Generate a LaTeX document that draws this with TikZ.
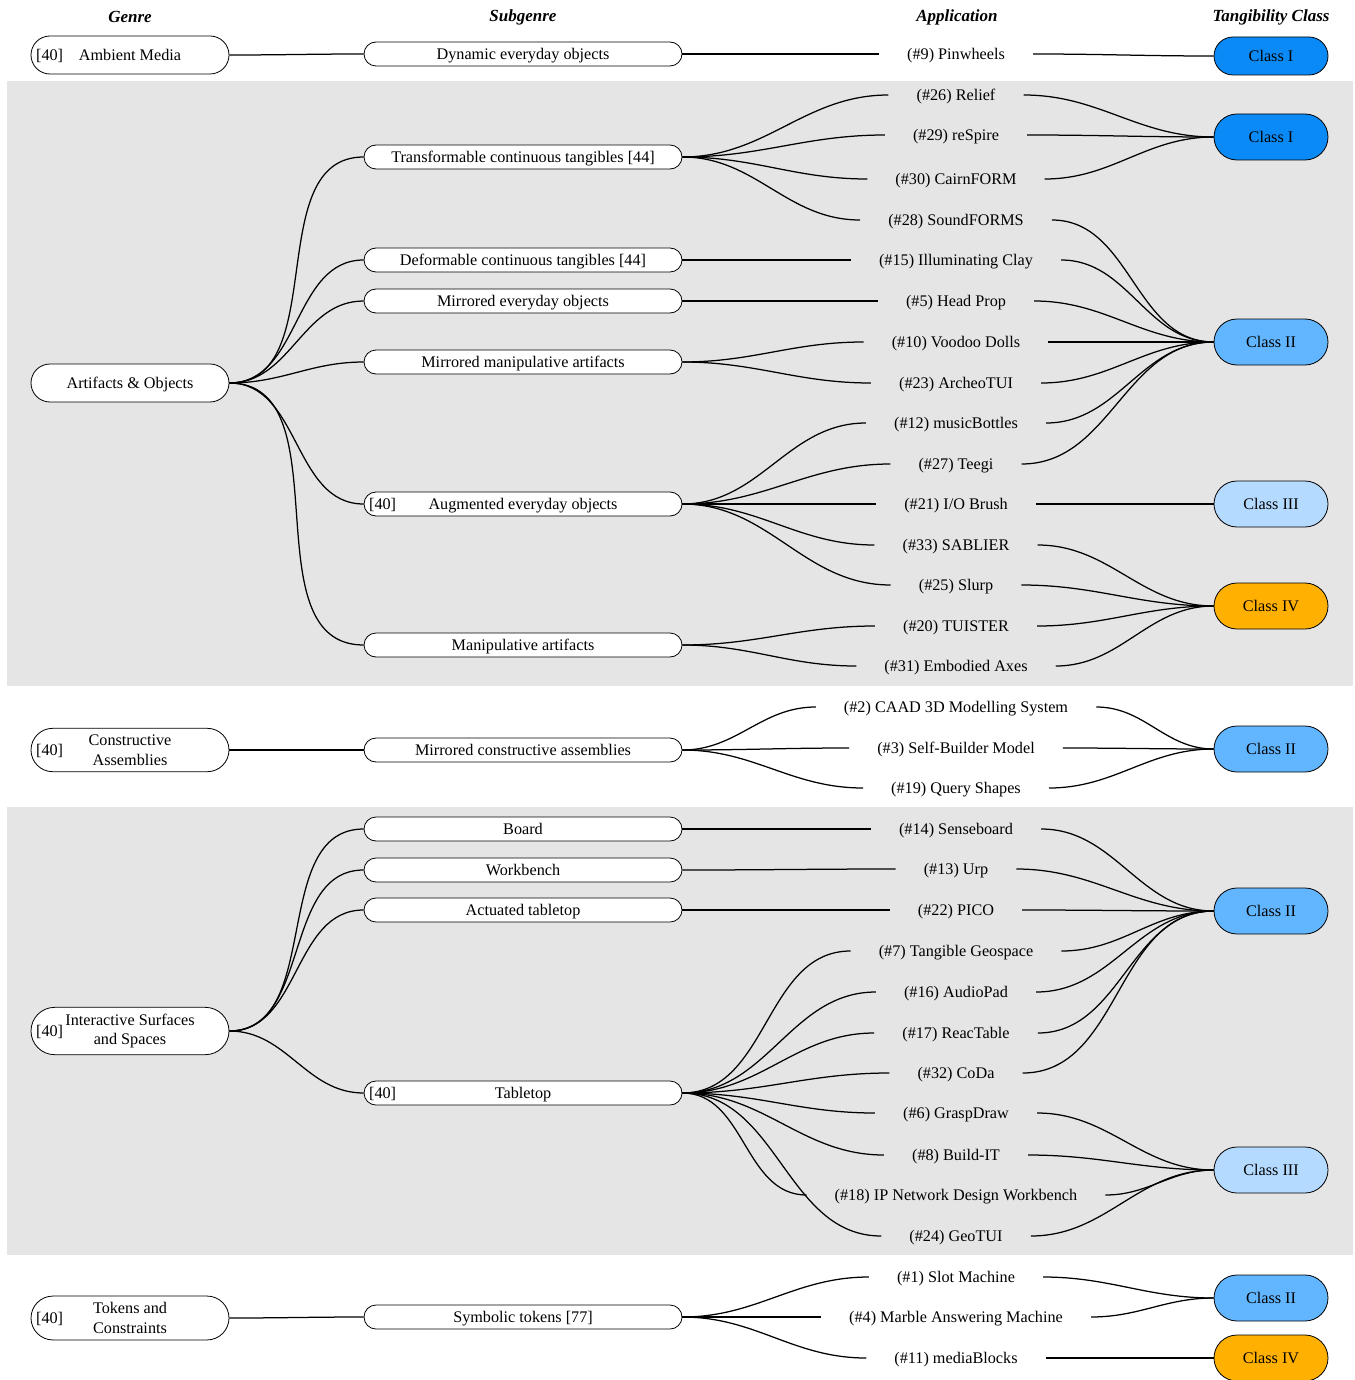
\documentclass[tikz,border=0pt]{standalone}
\usepackage{fontspec}
\setmainfont{Liberation Serif}
\usetikzlibrary{shapes.misc}

\definecolor{bandgray}{HTML}{E5E5E5}
\definecolor{classone}{HTML}{0A8AF7}
\definecolor{classtwo}{HTML}{62B6FF}
\definecolor{classthree}{HTML}{B4DBFF}
\definecolor{classfour}{HTML}{FFB000}

\begin{document}
\begin{tikzpicture}[x=1pt,y=-1pt,
  font=\fontsize{16.2}{19.5}\selectfont,
  oneline/.style={text height=12.5pt, text depth=1.5pt},
  pill/.style={rounded rectangle, draw, fill=white, line width=0.8pt, inner sep=2pt},
  genrebox/.style={pill, minimum width=202pt, minimum height=38pt, inner ysep=6.5pt, align=center},
  subbox/.style={pill, oneline, minimum width=322pt, minimum height=24pt},
  appnode/.style={oneline, inner xsep=28pt, inner ysep=2pt},
  classbox/.style={pill, oneline, minimum width=118pt, minimum height=46pt},
  cite40/.style={label={[anchor=west,xshift=2pt,oneline]west:[40]}},
  head/.style={font=\fontsize{17}{20}\selectfont\bfseries\itshape},
  link/.style={line width=1.25pt},
]
\useasboundingbox (0,0) rectangle (1354,1380);

% shaded bands
\fill[bandgray] (7,81) rectangle (1353,686);
\fill[bandgray] (7,807) rectangle (1353,1255);

% column heads
\node[head] (hgenre) at (130,17) {Genre};
\node[head] (hsub) at (523,17) {Subgenre};
\node[head] (happ) at (957,17) {Application};
\node[head] (hclass) at (1271,17) {Tangibility Class};

% genres
\node[genrebox, oneline, cite40] (amb) at (130,55) {Ambient Media};
\node[genrebox, oneline] (art) at (130,383) {Artifacts \& Objects};
\node[genrebox, cite40] (con) at (130,750) {Constructive\\Assemblies};
\node[genrebox, cite40] (int) at (130,1031) {Interactive Surfaces\\and Spaces};
\node[genrebox, cite40] (tok) at (130,1318) {Tokens and\\Constraints};

% subgenres
\node[subbox] (dyn) at (523,54) {Dynamic everyday objects};
\node[subbox] (trans) at (523,157) {Transformable continuous tangibles [44]};
\node[subbox] (deform) at (523,260) {Deformable continuous tangibles [44]};
\node[subbox] (mireo) at (523,301) {Mirrored everyday objects};
\node[subbox] (mirma) at (523,362) {Mirrored manipulative artifacts};
\node[subbox, cite40] (aug) at (523,504) {Augmented everyday objects};
\node[subbox] (manip) at (523,645) {Manipulative artifacts};
\node[subbox] (mircon) at (523,750) {Mirrored constructive assemblies};
\node[subbox] (board) at (523,829) {Board};
\node[subbox] (bench) at (523,870) {Workbench};
\node[subbox] (act) at (523,910) {Actuated tabletop};
\node[subbox, cite40] (table) at (523,1093) {Tabletop};
\node[subbox] (sym) at (523,1317) {Symbolic tokens [77]};

% applications
\foreach \n/\y/\t in {9/54/Pinwheels, 26/95/Relief, 29/135/reSpire, 30/179/CairnFORM,
    28/220/SoundFORMS, 15/260/Illuminating Clay, 5/301/Head Prop, 10/342/Voodoo Dolls,
    23/383/ArcheoTUI, 12/423/musicBottles, 27/464/Teegi, 21/504/{I/O Brush},
    33/545/SABLIER, 25/585/Slurp, 20/626/TUISTER, 31/666/Embodied Axes,
    2/707/CAAD 3D Modelling System, 3/748/Self-Builder Model, 19/788/Query Shapes,
    14/829/Senseboard, 13/869/Urp, 22/910/PICO, 7/951/Tangible Geospace,
    16/992/AudioPad, 17/1033/ReacTable, 32/1073/CoDa, 6/1113/GraspDraw,
    8/1155/Build-IT, 18/1195/IP Network Design Workbench, 24/1236/GeoTUI,
    1/1277/Slot Machine, 4/1317/Marble Answering Machine, 11/1358/mediaBlocks}
  \node[appnode] (a\n) at (956,\y) {(\#\n) \t};

% tangibility classes
\node[classbox, fill=classone, minimum height=38pt] (cIa) at (1271,56) {Class I};
\node[classbox, fill=classone] (cIb) at (1271,137) {Class I};
\node[classbox, fill=classtwo] (cIIa) at (1271,342) {Class II};
\node[classbox, fill=classthree] (cIIIa) at (1271,504) {Class III};
\node[classbox, fill=classfour] (cIVa) at (1271,606) {Class IV};
\node[classbox, fill=classtwo] (cIIb) at (1271,749) {Class II};
\node[classbox, fill=classtwo] (cIIc) at (1271,911) {Class II};
\node[classbox, fill=classthree] (cIIIb) at (1271,1170) {Class III};
\node[classbox, fill=classtwo] (cIId) at (1271,1298) {Class II};
\node[classbox, fill=classfour] (cIVb) at (1271,1358) {Class IV};

% genre -> subgenre -> application -> class
\foreach \a/\b in {amb/dyn, art/trans, art/deform, art/mireo, art/mirma, art/aug, art/manip,
    con/mircon, int/board, int/bench, int/act, int/table, tok/sym,
    dyn/a9, trans/a26, trans/a29, trans/a30, trans/a28, deform/a15, mireo/a5,
    mirma/a10, mirma/a23, aug/a12, aug/a27, aug/a21, aug/a33, aug/a25,
    manip/a20, manip/a31, mircon/a2, mircon/a3, mircon/a19,
    board/a14, bench/a13, act/a22, table/a7, table/a16, table/a17, table/a32,
    table/a6, table/a8, table/a18, table/a24, sym/a1, sym/a4, sym/a11,
    a9/cIa, a26/cIb, a29/cIb, a30/cIb, a28/cIIa, a15/cIIa, a5/cIIa, a10/cIIa,
    a23/cIIa, a12/cIIa, a27/cIIa, a21/cIIIa, a33/cIVa, a25/cIVa, a20/cIVa, a31/cIVa,
    a2/cIIb, a3/cIIb, a19/cIIb, a14/cIIc, a13/cIIc, a22/cIIc, a7/cIIc, a16/cIIc,
    a17/cIIc, a32/cIIc, a6/cIIIb, a8/cIIIb, a18/cIIIb, a24/cIIIb,
    a1/cIId, a4/cIId, a11/cIVb}
  \draw[link] (\a.east) to[out=0,in=180] (\b.west);
\end{tikzpicture}
\end{document}
